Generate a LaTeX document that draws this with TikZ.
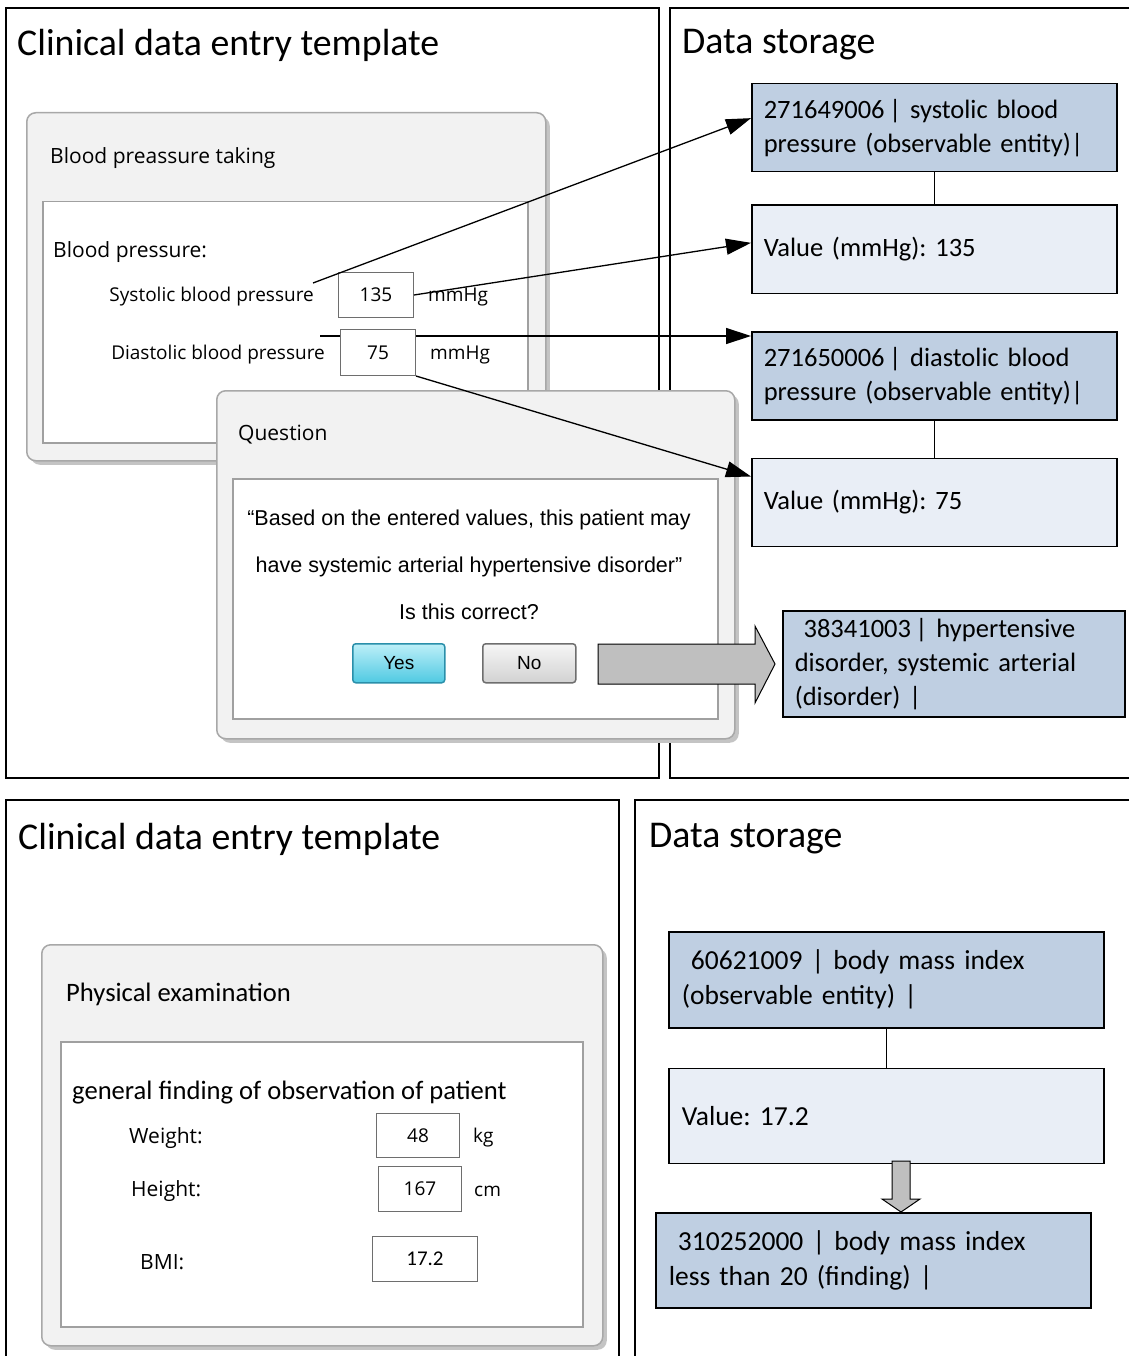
\documentclass[tikz,border=0pt]{standalone}
\usepackage{fontspec}
\setmainfont{Carlito}
\newfontfamily\uifont{Open Sans}
\newfontfamily\dlgfont{Liberation Sans}
\usetikzlibrary{arrows.meta,positioning,calc,shadows}
\frenchspacing
\definecolor{codeblue}{HTML}{BFCFE2}
\definecolor{valueblue}{HTML}{E9EEF6}
\definecolor{winfill}{HTML}{F2F2F2}
\definecolor{winline}{HTML}{A8A8A8}
\definecolor{winshade}{HTML}{C4C4C4}
\definecolor{paneline}{HTML}{A0A0A0}
\definecolor{fieldline}{HTML}{6E6E6E}
\definecolor{yestop}{HTML}{BDEFF8}
\definecolor{yesbot}{HTML}{4FC9E2}
\definecolor{yesline}{HTML}{2A8FAA}
\definecolor{notop}{HTML}{F6F6F6}
\definecolor{nobot}{HTML}{D2D2D2}
\definecolor{blockgray}{HTML}{BFBFBF}
\tikzset{
  panelframe/.style={draw=black,line width=1.2pt},
  paneltitle/.style={anchor=west,inner sep=0pt,font=\fontsize{37.8}{44}\selectfont},
  window/.style={draw=winline,line width=1.5pt,fill=winfill,rounded corners=9pt,anchor=north west,
    drop shadow={shadow xshift=4pt,shadow yshift=-4pt,fill=winshade,opacity=1}},
  formpane/.style={draw=paneline,line width=1.5pt,fill=white,anchor=north west},
  wintitle/.style={anchor=west,inner sep=0pt,font=\uifont\fontsize{21}{25}\selectfont},
  formtext/.style={anchor=west,inner sep=0pt,font=\fontsize{26.6}{30}\selectfont},
  fieldlabel/.style={inner sep=0pt,font=\uifont\fontsize{19}{23}\selectfont},
  valuefield/.style={draw=fieldline,line width=1pt,fill=white,anchor=north west,
    font=\uifont\fontsize{19}{23}\selectfont},
  codebox/.style={draw=black,line width=1.5pt,fill=codeblue,anchor=north west,align=left,
    inner xsep=12pt,font=\fontsize{26.5}{34}\selectfont},
  valuebox/.style={codebox,fill=valueblue},
  bigcodebox/.style={codebox,inner xsep=13pt,font=\fontsize{27.5}{35}\selectfont},
  bigvaluebox/.style={bigcodebox,fill=valueblue},
  dlgtext/.style={align=center,inner sep=0pt,font=\dlgfont\fontsize{21.5}{47}\selectfont},
  yesbutton/.style={draw=yesline,line width=1.5pt,rounded corners=3pt,top color=yestop,
    bottom color=yesbot,anchor=north west,font=\dlgfont\fontsize{19}{23}\selectfont},
  nobutton/.style={yesbutton,draw=fieldline,top color=notop,bottom color=nobot},
  ptr/.style={-{Triangle[length=25pt,width=16pt]},line width=1.3pt},
  link/.style={draw=black,line width=1pt},
  blockarrow/.style={draw=black,fill=blockgray,line width=1pt}
}
\begin{document}
\begin{tikzpicture}[x=1pt,y=-1pt,node distance=32pt]
  \useasboundingbox (0,0) rectangle (1129,1356);
  % panel frames
  \draw[panelframe] (6,8) rectangle (659,778);
  \draw[panelframe] (1129,8) -- (670,8) -- (670,778) -- (1129,778);
  \draw[panelframe] (6,1356) -- (6,800) -- (619,800) -- (619,1356);
  \draw[panelframe] (1129,800) -- (635,800) -- (635,1356);
  \node[paneltitle] (formtitle) at (17,45) {Clinical data entry template};
  \node[paneltitle] (storetitle) at (682,45) {Data storage};
  \node[paneltitle] (formtitleb) at (18,839) {Clinical data entry template};
  \node[paneltitle] (storetitleb) at (649,839) {Data storage};

  % stored concepts, blood pressure
  \node[codebox,text width=341pt,minimum height=88pt] (syscode) at (751,83)
    {271649006\,| systolic blood\\pressure (observable entity)|};
  \node[valuebox,text width=341pt,minimum height=88pt,below=32pt of syscode] (sysstore)
    {Value (mmHg): 135};
  \node[codebox,text width=341pt,minimum height=88pt,below=37pt of sysstore] (diacode)
    {271650006\,| diastolic blood\\pressure (observable entity)|};
  \node[valuebox,text width=341pt,minimum height=88pt,below=37pt of diacode] (diastore)
    {Value (mmHg): 75};
  \node[codebox,text width=318pt,minimum height=106pt] (hypercode) at (782,610)
    {\ 38341003\,| hypertensive\\disorder, systemic arterial\\(disorder) |};
  \draw[link] (syscode) -- (sysstore);
  \draw[link] (diacode) -- (diastore);

  % blood pressure form
  \node[window,minimum width=519pt,minimum height=348pt] (bpwin) at (26,112) {};
  \node[wintitle] (bptitle) at (50,158) {Blood preassure taking};
  \node[formpane,minimum width=485pt,minimum height=241pt] (bppane) at (42,201) {};
  \node[wintitle] (bplabel) at (53,252) {Blood pressure:};
  \node[fieldlabel,anchor=east] (syslabel) at (314,297) {Systolic blood pressure};
  \node[fieldlabel,anchor=east] (dialabel) at (325,355) {Diastolic blood pressure};
  \coordinate (sysstart) at (313,283);
  \coordinate (diastart) at (320,336);
  \draw[ptr] (diastart) -- (diastart -| diacode.west);
  \node[valuefield,minimum width=75pt,minimum height=45pt] (sysval) at (338,272) {135};
  \node[valuefield,minimum width=75pt,minimum height=46pt] (diaval) at (340,329) {75};
  \node[fieldlabel,anchor=west] (sysunit) at (428,297) {mmHg};
  \node[fieldlabel,anchor=west] (diaunit) at (430,355) {mmHg};

  % question dialog
  \node[window,minimum width=518pt,minimum height=348pt] (qwin) at (216,390) {};
  \node[wintitle] (qtitle) at (238,435) {Question};
  \node[formpane,minimum width=485pt,minimum height=240pt] (qpane) at (232,478) {};
  \node[dlgtext] (qtext) at (469,565)
    {“Based on the entered values, this patient may\\have systemic arterial hypertensive disorder”\\Is this correct?};
  \node[yesbutton,minimum width=92pt,minimum height=39pt] (yesbtn) at (352,643) {Yes};
  \node[nobutton,minimum width=93pt,minimum height=39pt] (nobtn) at (482,643) {No};

  \draw[ptr] (sysstart) -- (syscode.177);
  \draw[ptr] (sysval.east) -- (sysstore.178);
  \draw[ptr] (diaval.south east) -- (diastore.172);
  \draw[blockarrow] (598,644) -- (755,644) -- (755,626) -- (775,664) -- (755,703) -- (755,684)
    -- (598,684) -- cycle;

  % physical examination form
  \node[window,minimum width=561pt,minimum height=401pt] (pewin) at (41,944) {};
  \node[formtext] (petitle) at (66,994) {Physical examination};
  \node[formpane,minimum width=522pt,minimum height=285pt] (pepane) at (60,1041) {};
  \node[formtext] (pelabel) at (72,1093) {general finding of observation of patient};
  \node[wintitle] (wlabel) at (129,1138) {Weight:};
  \node[wintitle] (hlabel) at (131,1191) {Height:};
  \node[wintitle] (bmilabel) at (140,1262) {BMI:};
  \node[valuefield,minimum width=83pt,minimum height=44pt] (wval) at (376,1113) {48};
  \node[valuefield,minimum width=83pt,minimum height=45pt] (hval) at (378,1166) {167};
  \node[valuefield,minimum width=105pt,minimum height=45pt,font=\fontsize{21}{25}\selectfont] (bmival) at (372,1236) {17.2};
  \node[fieldlabel,anchor=west] (wunit) at (473,1138) {kg};
  \node[fieldlabel,anchor=west] (hunit) at (474,1191) {cm};

  % stored concepts, body mass index
  \node[bigcodebox,text width=409pt,minimum height=96pt] (bmicode) at (668,931)
    {\ 60621009 | body mass index\\(observable entity) |};
  \node[bigvaluebox,text width=409pt,minimum height=95pt,below=39pt of bmicode] (bmistore)
    {Value: 17.2};
  \node[bigcodebox,text width=409pt,minimum height=95pt] (bmifind) at (655,1212)
    {\ 310252000 | body mass index\\less than 20 (finding) |};
  \draw[link] (bmicode) -- (bmistore);
  \draw[blockarrow] (892,1161) -- (910,1161) -- (910,1199) -- (920,1199) -- (901,1212)
    -- (882,1199) -- (892,1199) -- cycle;
\end{tikzpicture}
\end{document}
